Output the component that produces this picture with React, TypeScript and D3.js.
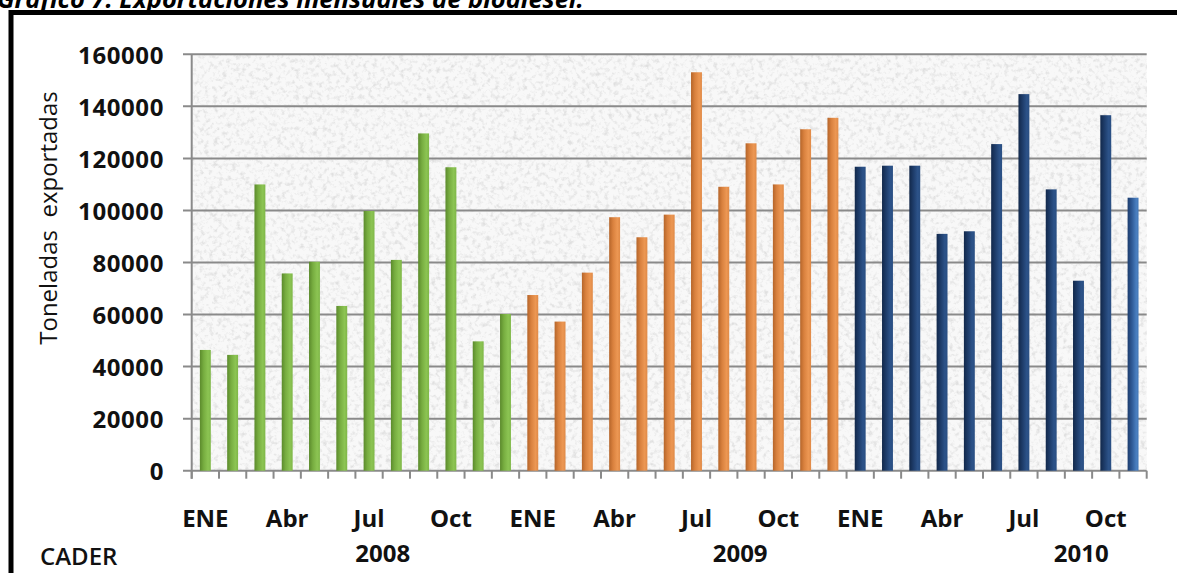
import React from "react";
import * as d3 from "d3";

// ---- Data ----
const years = ["2008", "2009", "2010"];
const exports2008 = [46400, 44500, 110000, 75800, 80300, 63300, 99800, 81000, 129600, 116600, 49700, 60200];
const exports2009 = [67500, 57300, 76100, 97400, 89700, 98400, 153100, 109100, 125800, 110000, 131200, 135600];
const exports2010 = [116800, 117200, 117200, 91000, 92000, 125500, 144700, 108100, 73000, 136600, 104900];
const monthTickLabels = ["ENE", "Abr", "Jul", "Oct"];
const monthTickIndex = [0, 3, 6, 9];
const yTicks = [0, 20000, 40000, 60000, 80000, 100000, 120000, 140000, 160000];
const yearLabelMonth = [6.5, 7.6, 8.1];

const W = 1177;
const H = 573;
const FONT = "'Open Sans', 'Noto Sans', sans-serif";

type Bar = { key: string; year: number; month: number; value: number; idx: number };

const series = [exports2008, exports2009, exports2010];
const bars: Bar[] = [];
series.forEach((vals, yi) =>
  vals.forEach((v, mi) => bars.push({ key: `${years[yi]}-${mi}`, year: yi, month: mi, value: v, idx: bars.length }))
);

const plotLeft = 191.7;
const plotRight = 1146.7;
const plotTop = 54.3;
const plotBottom = 470.7;

const x = d3
  .scaleBand<number>()
  .domain(d3.range(bars.length))
  .range([plotLeft, plotRight])
  .paddingInner(0.6)
  .paddingOuter(0.3);
const step = x.step();
const y = d3.scaleLinear().domain([0, 160000]).range([plotBottom, plotTop]);

const gradStops = [
  // green
  [
    ["0%", "#5b8a2c"],
    ["35%", "#77ad40"],
    ["75%", "#8cc453"],
    ["100%", "#7fb748"],
  ],
  // orange
  [
    ["0%", "#b5652a"],
    ["35%", "#d9813e"],
    ["75%", "#ec9753"],
    ["100%", "#e08a47"],
  ],
  // blue
  [
    ["0%", "#12284a"],
    ["35%", "#1d3b68"],
    ["75%", "#2c5288"],
    ["100%", "#2a4f83"],
  ],
];

export default function App() {
  const centerOf = (i: number) => (x(i) as number) + x.bandwidth() / 2;
  const boundaries = d3.range(bars.length + 1).map((i) => plotLeft + i * step);
  const lastBlue = bars.filter((d) => d.year === 2).length - 1;
  return (
    <svg
      width={W}
      height={H}
      viewBox={`0 0 ${W} ${H}`}
      style={{ position: "absolute", left: 0, top: 0, background: "#fff" }}
    >
      <defs>
        {gradStops.map((stops, gi) => (
          <linearGradient key={gi} id={`g${gi}`} x1="0" x2="1" y1="0" y2="0">
            {stops.map(([o, c]) => (
              <stop key={o} offset={o} stopColor={c} />
            ))}
          </linearGradient>
        ))}
        <linearGradient id="g3" x1="0" x2="1" y1="0" y2="0">
          <stop offset="0%" stopColor="#1d3d6e" />
          <stop offset="40%" stopColor="#2f5a96" />
          <stop offset="80%" stopColor="#4a7fc0" />
          <stop offset="100%" stopColor="#4377b6" />
        </linearGradient>
        <filter id="speckle" x="0" y="0" width="100%" height="100%">
          <feTurbulence type="fractalNoise" baseFrequency="0.22" numOctaves="3" seed="7" result="t" />
          <feColorMatrix
            in="t"
            type="matrix"
            values="0 0 0 0 0.55  0 0 0 0 0.55  0 0 0 0 0.55  3.0 0 0 0 -1.45"
          />
        </filter>
      </defs>

      {/* Title (cut off at the top, as in the reference) */}
      <text
        x={-3}
        y={8}
        fontFamily={FONT}
        fontWeight={700}
        fontStyle="italic"
        fontSize={25.5}
        fill="#000"
      >
        Gráfico 7: Exportaciones mensuales de biodiesel.
      </text>

      {/* Frame */}
      <rect x={11} y={12.5} width={W + 20} height={H + 20} fill="none" stroke="#000" strokeWidth={5} />

      {/* Plot area background */}
      <rect x={plotLeft} y={plotTop} width={plotRight - plotLeft} height={plotBottom - plotTop} fill="#f8f8f8" />
      <rect
        x={plotLeft}
        y={plotTop}
        width={plotRight - plotLeft}
        height={plotBottom - plotTop}
        fill="#fff"
        filter="url(#speckle)"
        opacity={0.45}
      />

      {/* Gridlines + y ticks */}
      {yTicks.map((t) => (
        <g key={t}>
          <line x1={183} x2={plotRight} y1={y(t)} y2={y(t)} stroke="#8a8a8a" strokeWidth={2} />
          <text
            x={164}
            y={y(t)}
            textAnchor="end"
            dominantBaseline="central"
            fontFamily={FONT}
            fontWeight={700}
            fontSize={24}
            letterSpacing={0.6}
            fill="#111"
          >
            {t}
          </text>
        </g>
      ))}
      {/* y axis */}
      <line x1={plotLeft} x2={plotLeft} y1={plotTop} y2={plotBottom + 8} stroke="#8a8a8a" strokeWidth={2} />
      {/* x ticks */}
      {boundaries.map((bx, i) => (
        <line key={i} x1={bx} x2={bx} y1={plotBottom} y2={plotBottom + 8} stroke="#8a8a8a" strokeWidth={2} />
      ))}

      {/* Bars */}
      {bars.map((b) => (
        <rect
          key={b.key}
          x={x(b.idx)}
          y={y(b.value)}
          width={x.bandwidth()}
          height={y(0) - y(b.value)}
          fill={b.year === 2 && b.month === lastBlue ? "url(#g3)" : `url(#g${b.year})`}
        />
      ))}

      {/* Month labels */}
      {years.map((yr, yi) =>
        monthTickIndex.map((mi, k) => {
          const bar = bars.find((b) => b.year === yi && b.month === mi);
          if (!bar) return null;
          return (
            <text
              key={`${yr}-${mi}`}
              x={centerOf(bar.idx)}
              y={527}
              textAnchor="middle"
              fontFamily={FONT}
              fontWeight={700}
              fontSize={24}
              fill="#111"
            >
              {monthTickLabels[k]}
            </text>
          );
        })
      )}

      {/* Year labels */}
      {years.map((yr, yi) => {
        const first = bars.find((b) => b.year === yi)!;
        return (
          <text
            key={yr}
            x={centerOf(first.idx) + yearLabelMonth[yi] * step}
            y={562}
            textAnchor="middle"
            fontFamily={FONT}
            fontWeight={700}
            fontSize={24}
            fill="#111"
          >
            {yr}
          </text>
        );
      })}

      {/* Y axis title */}
      <text
        transform={`translate(57, 218) rotate(-90)`}
        textAnchor="middle"
        fontFamily={FONT}
        fontWeight={500}
        fontSize={24}
        fill="#111"
        style={{ whiteSpace: "pre" }}
      >
        {"Toneladas  exportadas"}
      </text>

      {/* Source */}
      <text x={40} y={565} fontFamily={FONT} fontWeight={600} fontSize={24} fill="#111">
        CADER
      </text>
    </svg>
  );
}
